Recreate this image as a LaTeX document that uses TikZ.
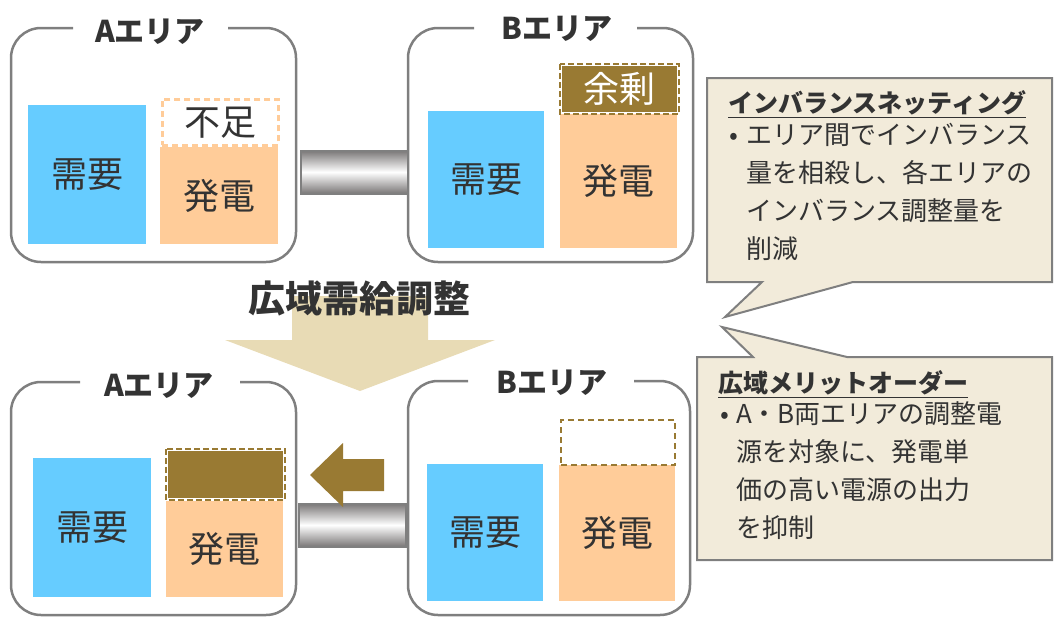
\documentclass[tikz,border=0pt]{standalone}
\usepackage{fontspec}
\setmainfont{Noto Sans CJK JP}
\usetikzlibrary{shapes.geometric}
\definecolor{boxgray}{HTML}{7F7F7F}
\definecolor{demandc}{HTML}{66CCFF}
\definecolor{genc}{HTML}{FFCC99}
\definecolor{surplc}{HTML}{997A33}
\definecolor{callfill}{HTML}{F2EBDA}
\definecolor{bigarrow}{HTML}{E8DBB5}
\definecolor{txt}{HTML}{333333}
\definecolor{pipedark}{HTML}{7A7777}
\begin{document}
\begin{tikzpicture}[x=1pt,y=-1pt,
  areabox/.style={draw=boxgray, line width=2.5pt, rounded corners=30pt},
  areatitle/.style={font=\fontsize{30}{34}\selectfont\bfseries, text=txt, inner sep=0pt},
  bar/.style={draw=none, inner sep=0pt, anchor=north west, text=txt,
    font=\fontsize{36}{40}\selectfont},
  demand/.style={bar, fill=demandc},
  gen/.style={bar, fill=genc},
  pipe/.style={draw=boxgray, line width=2pt, top color=pipedark, bottom color=pipedark,
    middle color=white, inner sep=0pt, minimum width=107pt, minimum height=43pt},
  callout/.style={draw=boxgray, line width=2pt, fill=callfill},
  calltitle/.style={font=\fontsize{25}{30}\selectfont\bfseries, text=txt, inner sep=0pt, anchor=west},
  callbody/.style={font=\fontsize{26}{38}\selectfont, text=txt, inner sep=0pt, anchor=north west},
  brownarrow/.style={fill=surplc, draw=none}
]
\useasboundingbox (0,0) rectangle (1055,621);

% ---------- top row ----------
\draw[areabox] (228,28) -- (296,28) -- (296,262) -- (11,262) -- (11,28) -- (73,28);
\node[areatitle] (tA1) at (150,32) {Aエリア};
\draw[areabox] (637,28) -- (693,28) -- (693,262) -- (408,262) -- (408,28) -- (474,28);
\node[areatitle] (tB1) at (557,29) {Bエリア};

\node[demand, minimum width=118pt, minimum height=139pt] (dA1) at (28,105) {需要};
\node[gen, minimum width=118pt, minimum height=97pt] (gA1) at (160,147) {発電};
\node[bar, draw=genc, line width=2.5pt, dash pattern=on 6pt off 4pt, fill=white,
  minimum width=116pt, minimum height=46pt] (sA1) at (161,98) {不足};

\node[demand, minimum width=116pt, minimum height=137pt] (dB1) at (428,111) {需要};
\node[gen, minimum width=117pt, minimum height=135pt] (gB1) at (560,113) {発電};
\node[bar, fill=surplc, draw=white, line width=2pt, text=white,
  minimum width=117pt, minimum height=48pt] (xB1) at (560,64) {余剰};
\draw[surplc, line width=2pt, dash pattern=on 6pt off 3pt] (xB1.north west) rectangle (xB1.south east);

\node[pipe] (p1) at (354,172) {};

% ---------- big arrow ----------
\fill[bigarrow] (292,296) -- (428,296) -- (428,340) -- (495,340) -- (360,391)
  -- (225,340) -- (292,340) -- cycle;
\node[font=\fontsize{37}{40}\selectfont\bfseries, text=txt, inner sep=0pt] (main) at (359,298) {広域需給調整};

% ---------- bottom row ----------
\draw[areabox] (240,382) -- (296,382) -- (296,615) -- (11,615) -- (11,382) -- (80,382);
\node[areatitle] (tA2) at (159,386) {Aエリア};
\draw[areabox] (634,381) -- (690,381) -- (690,615) -- (408,615) -- (408,381) -- (468,381);
\node[areatitle] (tB2) at (552,383) {Bエリア};

\node[demand, minimum width=118pt, minimum height=139pt] (dA2) at (33,458) {需要};
\node[gen, minimum width=117pt, minimum height=96pt] (gA2) at (166,501) {発電};
\node[bar, fill=surplc, draw=white, line width=2pt,
  minimum width=117pt, minimum height=49pt] (xA2) at (166,449) {};
\draw[surplc, line width=2pt, dash pattern=on 6pt off 3pt] (xA2.north west) rectangle (xA2.south east);

\node[demand, minimum width=116pt, minimum height=137pt] (dB2) at (427,464) {需要};
\node[gen, minimum width=116pt, minimum height=136pt] (gB2) at (559,465) {発電};
\node[bar, draw=surplc, line width=2pt, dash pattern=on 6pt off 4pt, fill=white,
  minimum width=114pt, minimum height=45pt] (eB2) at (560,419) {};

\node[pipe] (p2) at (352,525) {};

\coordinate (arrtip) at (310,475);
\fill[brownarrow] (arrtip) -- (343,443) -- (343,459) -- (384,459) -- (384,491)
  -- (343,491) -- (343,507) -- cycle;

% ---------- callouts ----------
\draw[callout] (707,78) -- (1052,78) -- (1052,282) -- (853,282) -- (725,317)
  -- (762,282) -- (707,282) -- cycle;
\node[calltitle] (c1t) at (728,103) {インバランスネッティング};
\draw[txt, line width=1.5pt] ([yshift=-5pt]c1t.base west) -- ([yshift=-5pt]c1t.base east);
\node[callbody] (c1b) at (729,118) {\begin{tabular}{@{}l@{\hspace{8pt}}l@{}}
•&エリア間でインバランス\\
&量を相殺し、各エリアの\\
&インバランス調整量を\\
&削減
\end{tabular}};

\draw[callout] (697,357) -- (753,357) -- (722,327) -- (847,357) -- (1052,357)
  -- (1052,560) -- (697,560) -- cycle;
\node[calltitle] (c2t) at (718,383) {広域メリットオーダー};
\draw[txt, line width=1.5pt] ([yshift=-5pt]c2t.base west) -- ([yshift=-5pt]c2t.base east);
\node[callbody] (c2b) at (720,397) {\begin{tabular}{@{}l@{\hspace{7pt}}l@{}}
•&A・B両エリアの調整電\\
&源を対象に、発電単\\
&価の高い電源の出力\\
&を抑制
\end{tabular}};
\end{tikzpicture}
\end{document}
